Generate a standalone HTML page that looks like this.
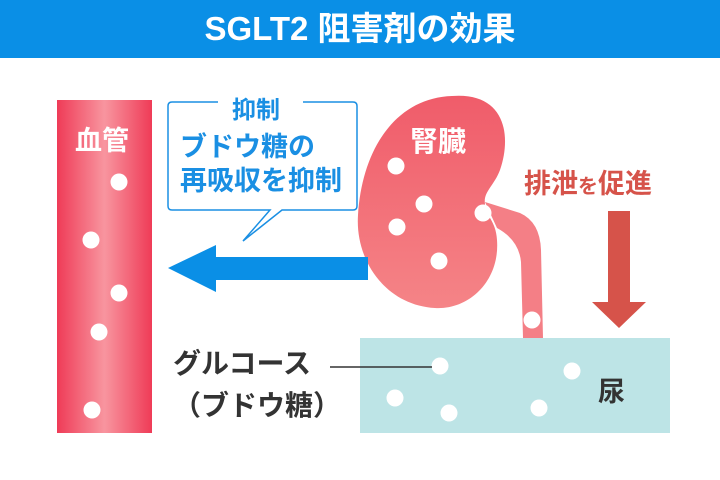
<!DOCTYPE html><html><head><meta charset="utf-8"><style>
body{margin:0;width:720px;height:480px;background:#fff;overflow:hidden;font-family:"Liberation Sans","Noto Sans CJK JP",sans-serif;font-weight:bold}
.t{position:absolute;white-space:nowrap}
</style></head><body>
<div style="position:absolute;left:0;top:0;width:720px;height:58px;background:#0a8fe6"></div>
<div class="t" style="left:0;width:720px;top:8px;text-align:center;color:#fff;font-size:33px;line-height:42px">SGLT2 阻害剤の効果</div>
<svg width="720" height="480" style="position:absolute;left:0;top:0">
<defs>
<linearGradient id="v" x1="0" x2="1"><stop offset="0" stop-color="#ef3b57"/><stop offset=".5" stop-color="#f8959f"/><stop offset="1" stop-color="#ef3b57"/></linearGradient>
<linearGradient id="k" x1="0" y1="0" x2="0" y2="1"><stop offset="0" stop-color="#f05c6a"/><stop offset="1" stop-color="#f58487"/></linearGradient>
</defs>
<rect x="57" y="100" width="95" height="333" fill="url(#v)"/>
<rect x="360" y="338" width="310" height="95" fill="#bde4e6"/>
<path d="M485 202 L520 213 Q540 222 541 250 L543 338 L523 338 L521 262 Q519 240 497 228 Z" fill="#f47f86"/>
<path d="M452 96 C505 92 512 135 500 170 C494 186 483 192 485 204 C485 216 496 220 497 240 C500 280 470 310 435 308 C385 305 355 260 358 215 C362 150 395 98 452 96 Z" fill="url(#k)"/>
<g fill="#fff">
<circle cx="119" cy="182" r="8.5"/><circle cx="91" cy="240" r="8.5"/><circle cx="119" cy="293" r="8.5"/><circle cx="99" cy="332" r="8.5"/><circle cx="92" cy="410" r="8.5"/>
<circle cx="396" cy="166" r="8.5"/><circle cx="424" cy="204" r="8.5"/><circle cx="397" cy="227" r="8.5"/><circle cx="439" cy="261" r="8.5"/><circle cx="483" cy="213" r="8.5"/><circle cx="532" cy="320" r="8.5"/>
<circle cx="440" cy="366" r="8.5"/><circle cx="395" cy="398" r="8.5"/><circle cx="449" cy="413" r="8.5"/><circle cx="539" cy="408" r="8.5"/><circle cx="572" cy="371" r="8.5"/>
</g>
<path d="M218 102 H172 Q168 102 168 106 V206 Q168 210 172 210 H270 L243 241 L282 210 H353 Q357 210 357 206 V106 Q357 102 353 102 H303" fill="none" stroke="#1a8fe3" stroke-width="1.5"/>
<path d="M168 268 L216 245 L216 257 L368 257 L368 280 L216 280 L216 292 Z" fill="#0a8fe6"/>
<path d="M608 211 H630 V302 H646 L619 328 L592 302 H608 Z" fill="#d6534a"/>
<line x1="330" y1="367" x2="432" y2="367" stroke="#333" stroke-width="1.5"/>
</svg>
<div class="t" style="left:75px;top:119px;color:#fff;font-size:27px">血管</div>
<div class="t" style="left:410px;top:120px;color:#fff;font-size:28px">腎臓</div>
<div class="t" style="left:232px;top:90px;color:#1a8fe3;font-size:24px">抑制</div>
<div class="t" style="left:180px;top:130px;color:#1a8fe3;font-size:27px;line-height:34px">ブドウ糖の<br>再吸収を抑制</div>
<div class="t" style="left:524px;top:162px;color:#d6534a;font-size:27px">排泄<span style="font-size:20px">を</span>促進</div>
<div class="t" style="left:173px;top:343px;color:#333;font-size:28px;line-height:42px">グルコース<br>（ブドウ糖）</div>
<div class="t" style="left:598px;top:370px;color:#333;font-size:27px">尿</div>
</body></html>
